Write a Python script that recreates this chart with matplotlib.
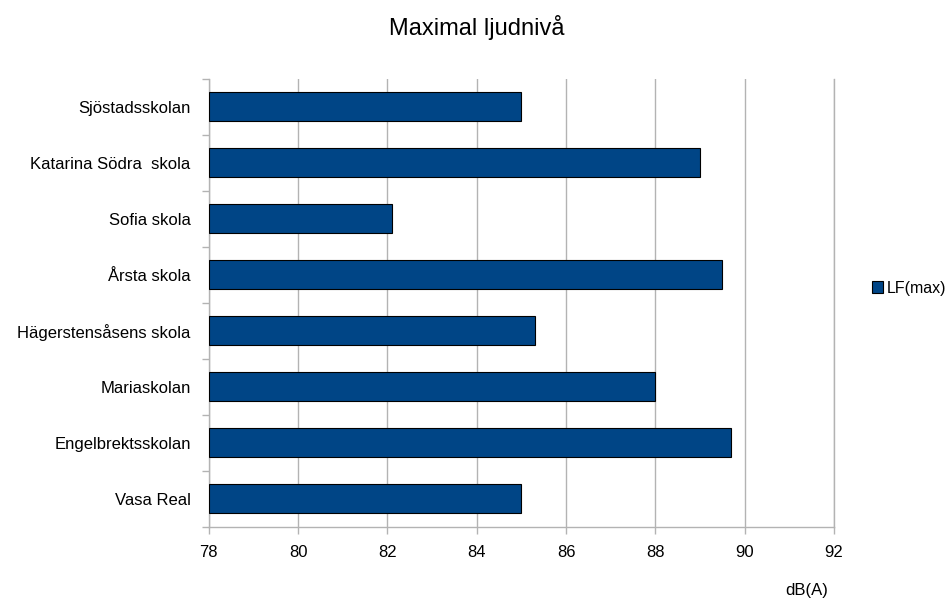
import matplotlib
matplotlib.use("Agg")
import matplotlib.pyplot as plt
import numpy as np

plt.rcParams['font.family'] = ['Liberation Sans', 'DejaVu Sans']

schools = ['Sjöstadsskolan', 'Katarina Södra  skola', 'Sofia skola', 'Årsta skola',
           'Hägerstensåsens skola', 'Mariaskolan', 'Engelbrektsskolan', 'Vasa Real']
lf_max = [85.0, 89.0, 82.1, 89.5, 85.3, 88.0, 89.7, 85.0]
x_ticks = [78, 80, 82, 84, 86, 88, 90, 92]

grey = '#b3b3b3'
blue = '#004586'

fig = plt.figure(figsize=(9.51, 6.01), dpi=100)
ax = fig.add_axes([208.7 / 951, 1 - 526.7 / 601, (834 - 208.7) / 951, 448 / 601])

y = np.arange(len(schools))
ax.barh(y, np.array(lf_max) - 78, left=78, height=0.52, color=blue,
        edgecolor='black', linewidth=0.8, label='LF(max)', zorder=3)

ax.set_xlim(78, 92)
ax.set_ylim(len(schools) - 0.5, -0.5)
ax.set_xticks(x_ticks)
ax.set_xticklabels([str(t) for t in x_ticks], fontsize=12)
ax.set_yticks(y)
ax.set_yticklabels(schools, fontsize=12)
ax.set_yticks(np.arange(len(schools) + 1) - 0.5, minor=True)

ax.grid(axis='x', color=grey, linewidth=1, zorder=0)
ax.tick_params(axis='y', which='major', length=0, pad=13)
ax.tick_params(axis='y', which='minor', length=5, color=grey, width=1)
ax.tick_params(axis='x', length=5, color=grey, width=1, pad=8)

ax.spines['top'].set_visible(False)
for side in ['left', 'bottom', 'right']:
    ax.spines[side].set_color(grey)
    ax.spines[side].set_linewidth(1)

fig.text(477 / 951, 1 - 27 / 601, 'Maximal ljudnivå', fontsize=17,
         ha='center', va='center')
fig.text(807 / 951, 1 - 590 / 601, 'dB(A)', fontsize=12, ha='center', va='center')

ax.legend(loc='center left', bbox_to_anchor=(872 / 951, 1 - 288 / 601),
          bbox_transform=fig.transFigure, frameon=False, fontsize=11.5,
          handlelength=0.7, handleheight=0.7, handletextpad=0.25, borderpad=0,
          borderaxespad=0)

fig.savefig('out.png', dpi=100)
